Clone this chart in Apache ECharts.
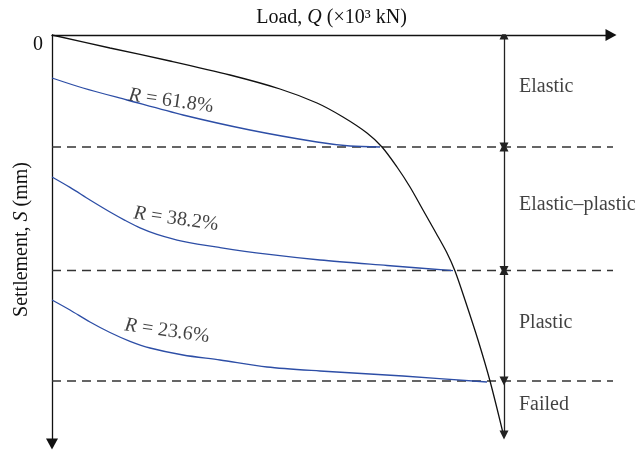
<!DOCTYPE html>
<html>
<head>
<meta charset="utf-8">
<script src="https://cdn.jsdelivr.net/npm/echarts@6/dist/echarts.min.js"></script>
<style>html,body{margin:0;padding:0;background:#fff}#c{width:642px;height:451px}</style>
</head>
<body>
<div id="c"></div>
<script>
// Load (x10^3 kN) vs settlement (mm), schematic values
const loadSettlement = [[0,0],[0.58,1.3],[1.18,2.6],[1.78,4.0],[2.28,5.4],[2.65,6.8],[2.91,8.2],[3.15,9.8],[3.30,11.2],[3.45,13.2],[3.58,15.2],[3.71,17.5],[3.84,19.8],[3.95,21.8],[4.03,23.6],[4.13,26.5],[4.26,30.5],[4.38,34.6],[4.51,39.8]];
const curveR618 = [[0,4.3],[0.31,5.3],[0.75,6.5],[1.31,8.0],[1.98,9.5],[2.65,10.7],[2.98,11.1],[3.28,11.2]];
const curveR382 = [[0,14.2],[0.18,15.24],[0.38,16.5],[0.58,17.7],[0.73,18.53],[0.88,19.28],[1.05,19.93],[1.31,20.63],[1.68,21.26],[2.15,21.92],[2.68,22.5],[3.35,23.05],[4.01,23.57]];
const curveR236 = [[0,26.5],[0.18,27.5],[0.38,28.7],[0.58,29.75],[0.78,30.63],[0.98,31.3],[1.31,32.0],[1.68,32.5],[2.15,33.2],[2.68,33.6],[3.51,34.1],[4.35,34.7]];
const rLabels = ['61.8%','38.2%','23.6%'];
const rLabelPos = [[1.19,6.6],[1.24,18.4],[1.15,29.6]];
const boundaries = [11.2, 23.55, 34.6];
const boundaryXEnd = 5.65;
const phaseX = 4.52;
const phaseEnd = 40.0;
const phaseNames = ['Elastic','Elastic–plastic','Plastic','Failed'];
const phaseLabelX = 4.67;
const phaseLabelY = [5.2, 17.0, 28.8, 37.0];

const FONT = 'Liberation Serif';
const TXT = '#111';
const chart = echarts.init(document.getElementById('c'), null, {renderer:'canvas'});

const series = [];
boundaries.forEach(function(b){
  series.push({type:'line', data:[[0,b],[boundaryXEnd,b]], symbol:'none', clip:false, z:1,
    lineStyle:{color:'#333', width:1.3, type:[9,6]}});
});
series.push({type:'line', data:loadSettlement, symbol:'none', smooth:0.3, z:3,
  lineStyle:{color:'#111', width:1.3}});
[curveR618, curveR382, curveR236].forEach(function(c){
  series.push({type:'line', data:c, symbol:'none', smooth:0.3, z:2,
    lineStyle:{color:'#2d4ea6', width:1.3}});
});
const segs = [];
const ends = [0].concat(boundaries).concat([phaseEnd]);
for (let i=0;i<ends.length-1;i++){
  segs.push({coords:[[phaseX,ends[i]],[phaseX,ends[i+1]]],
    symbol: i===ends.length-2 ? ['none','triangle'] : ['triangle','triangle']});
}
series.push({type:'lines', coordinateSystem:'cartesian2d', data:segs, z:4,
  symbol:['triangle','triangle'], symbolSize:[9,9], symbolOffset:[[0,4.5],[0,4.5]],
  lineStyle:{color:'#222', width:1.3, opacity:1}});
series.push({type:'scatter', symbolSize:0, z:5,
  data: rLabelPos.map(function(p,i){return [p[0],p[1],rLabels[i]];}),
  label:{show:true, position:'inside', rotate:-8, color:TXT, fontFamily:FONT, fontSize:20,
    formatter:function(p){return '{i|R}{a| = '+p.data[2]+'}';},
    rich:{i:{fontStyle:'italic', fontFamily:FONT, fontSize:20, color:TXT}, a:{fontFamily:FONT, fontSize:20, color:TXT}}}});
series.push({type:'scatter', symbolSize:0, z:5,
  data: phaseLabelY.map(function(y,i){return [phaseLabelX,y,phaseNames[i]];}),
  label:{show:true, position:'right', distance:0, color:TXT, fontFamily:FONT, fontSize:20,
    formatter:function(p){return p.data[2];}}});

chart.setOption({
  animation:false,
  grid:{left:52, top:35, right:31, bottom:7, containLabel:false, outerBoundsMode:'none'},
  xAxis:{type:'value', position:'top', min:0, max:5.59,
    name:'{a|Load, }{i|Q}{a| (×10³ kN)}', nameLocation:'middle', nameGap:7, nameMoveOverlap:false,
    nameTextStyle:{color:TXT, rich:{a:{fontFamily:FONT,fontSize:20,color:TXT},i:{fontFamily:FONT,fontSize:20,fontStyle:'italic',color:TXT}}},
    axisLine:{show:true, onZero:false, symbol:['none','triangle'], symbolSize:[12,11], lineStyle:{color:'#111', width:1.3}},
    axisTick:{show:false}, axisLabel:{show:false}, splitLine:{show:false}},
  yAxis:{type:'value', inverse:true, min:0, max:40.9,
    name:'{a|Settlement, }{i|S}{a| (mm)}', nameLocation:'middle', nameGap:20, nameRotate:90, nameMoveOverlap:false,
    nameTextStyle:{color:TXT, rich:{a:{fontFamily:FONT,fontSize:20,color:TXT},i:{fontFamily:FONT,fontSize:20,fontStyle:'italic',color:TXT}}},
    axisLine:{show:true, onZero:false, symbol:['triangle','none'], symbolSize:[12,11], lineStyle:{color:'#111', width:1.3}},
    axisTick:{show:false}, splitLine:{show:false},
    axisLabel:{show:true, showMinLabel:true, margin:9, verticalAlign:'top', color:TXT, fontFamily:FONT, fontSize:20,
      formatter:function(v){return v===0?'0':'';}}},
  series:series
});
</script>
</body>
</html>
